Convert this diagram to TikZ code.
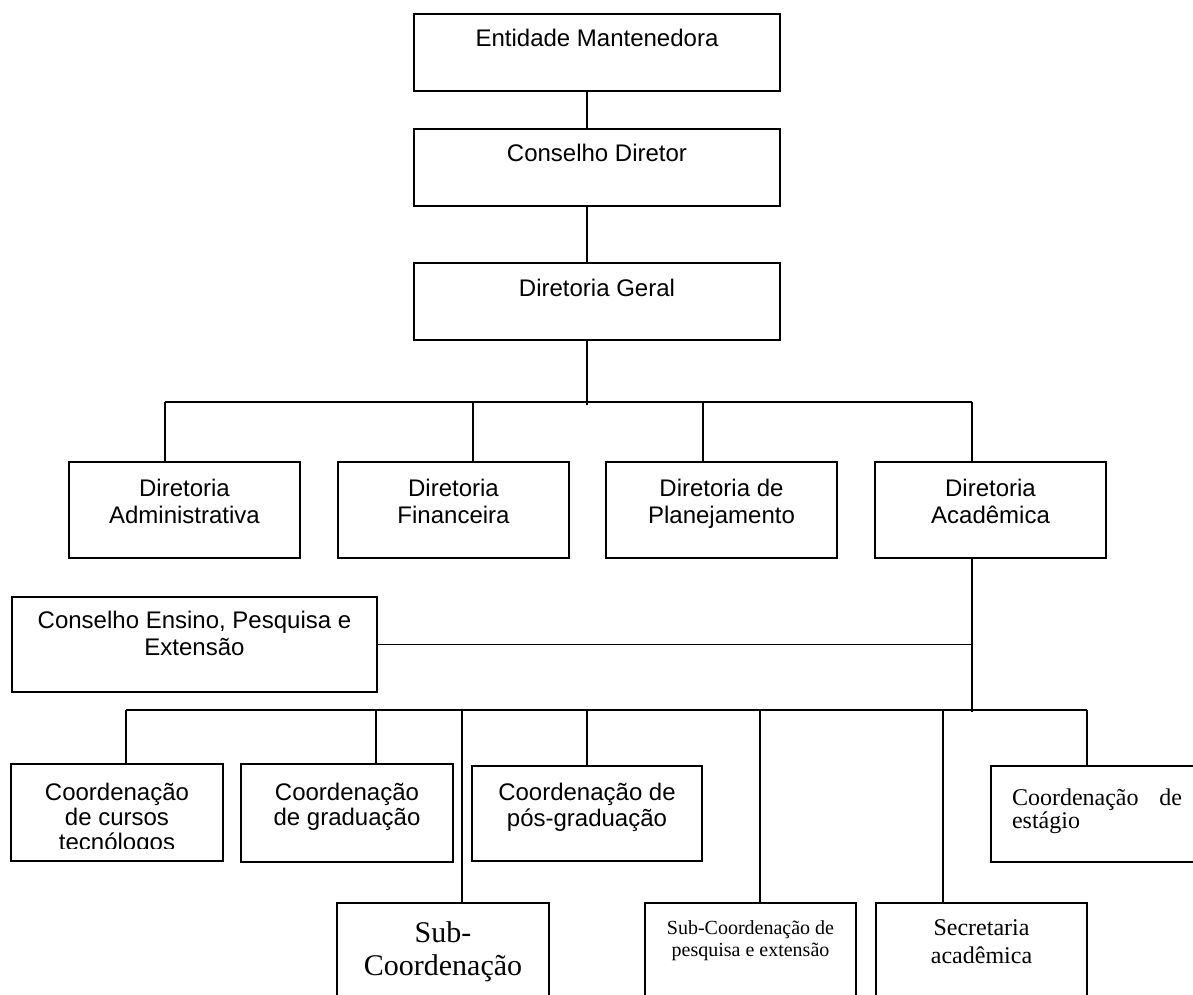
\documentclass[tikz,border=0pt]{standalone}
\usepackage{fontspec}
\setmainfont{Liberation Sans}
\newfontfamily\tnr{Liberation Serif}
% #1 width, #2 height, #3 font setup, #4 first-baseline strut, #5 text
\newcommand{\bxt}[5]{\parbox[t][#2][t]{#1}{#3\centering\rule{0pt}{#4}#5}}
\tikzset{
  frame/.style={draw=black, line width=0.75pt, inner sep=0pt, outer sep=0pt, anchor=north west},
  bare/.style={inner sep=0pt, outer sep=0pt, anchor=north west},
  link/.style={draw=black, line width=0.75pt},
}
\newcommand{\ar}{\fontsize{12pt}{13.8pt}\selectfont}
\begin{document}
\begin{tikzpicture}[x=0.5pt, y=-0.5pt]
\useasboundingbox (0,0) rectangle (1193,995);
\clip (0,0) rectangle (1193,995);

% top chain
\node[frame] (ent) at (414,14)  {\bxt{183pt}{38.5pt}{\ar}{16.5pt}{Entidade Mantenedora}};
\node[frame] (cd)  at (414,129) {\bxt{183pt}{38.5pt}{\ar}{16.5pt}{Conselho Diretor}};
\node[frame] (dg)  at (414,263) {\bxt{183pt}{38.5pt}{\ar}{16.5pt}{Diretoria Geral}};

% directorates
\node[frame] (adm) at (69,462)  {\bxt{115.5pt}{48pt}{\ar}{17pt}{Diretoria\\Administrativa}};
\node[frame] (fin) at (338,462) {\bxt{115.5pt}{48pt}{\ar}{17pt}{Diretoria\\Financeira}};
\node[frame] (pla) at (606,462) {\bxt{115.5pt}{48pt}{\ar}{17pt}{Diretoria de\\Planejamento}};
\node[frame] (aca) at (875,462) {\bxt{115.5pt}{48pt}{\ar}{17pt}{Diretoria\\Acadêmica}};

% council
\node[frame] (con) at (12,597) {\bxt{182.5pt}{47.5pt}{\fontsize{12pt}{13.5pt}\selectfont}{15.5pt}{Conselho Ensino, Pesquisa e\\Extensão}};

% coordinations
\begin{scope}
  \clip (11,764) rectangle (223,848);
  \node[bare] (cur) at (11,764) {\bxt{106pt}{48.5pt}{\fontsize{12pt}{12.5pt}\selectfont}{18pt}{Coordenação\\de cursos\\tecnólogos}};
\end{scope}
\draw[link] (cur.south west) rectangle (cur.north east);
\node[frame] (gra) at (241,764) {\bxt{106pt}{49pt}{\fontsize{12pt}{12.5pt}\selectfont}{18pt}{Coordenação\\de graduação}};
\node[frame] (pos) at (472,766) {\bxt{115pt}{47.5pt}{\fontsize{12pt}{13pt}\selectfont}{17pt}{Coordenação de\\pós-graduação}};
\node[frame] (est) at (991,766) {\parbox[t][48pt][t]{102pt}{\tnr\fontsize{12pt}{11.5pt}\selectfont\leftskip=10.5pt\rightskip=6.5pt\parindent=0pt\rule{0pt}{19.5pt}Coordenação\hfill de\\estágio}};

% sub-coordinations
\node[frame] (sub) at (337,903) {\bxt{106pt}{60pt}{\tnr\fontsize{15pt}{16.5pt}\selectfont}{19.5pt}{Sub-\\Coordenação}};
\node[frame] (sup) at (645,903) {\bxt{105.5pt}{60pt}{\tnr\fontsize{10pt}{11pt}\selectfont}{15.5pt}{Sub-Coordenação de\\pesquisa e extensão}};
\node[frame] (sec) at (876,903) {\bxt{105.5pt}{60pt}{\tnr\fontsize{12pt}{14pt}\selectfont}{16pt}{Secretaria\\acadêmica}};

% connectors: top chain
\coordinate (j0) at (587,402);
\draw[link] (ent.south -| j0) -- (cd.north -| j0);
\draw[link] (cd.south -| j0) -- (dg.north -| j0);
\draw[link] (dg.south -| j0) -- ([yshift=-1.5pt]j0);

% bus 1
\coordinate (b1a) at (165,402);
\coordinate (b1b) at (473,402);
\coordinate (b1c) at (703,402);
\coordinate (b1d) at (972,402);
\draw[link] (b1a) -- (b1d);
\draw[link] (b1a) -- (b1a |- adm.north);
\draw[link] (b1b) -- (b1b |- fin.north);
\draw[link] (b1c) -- (b1c |- pla.north);
\draw[link] (b1d) -- (b1d |- aca.north);

% academic trunk and council
\coordinate (j1) at (972,710);
\draw[link] (aca.south -| j1) -- ([yshift=-1pt]j1);
\draw[link] (con.east) -- (con.east -| j1);

% bus 2
\coordinate (b2a) at (126,710);
\coordinate (b2b) at (376,710);
\coordinate (b2c) at (462,710);
\coordinate (b2d) at (587,710);
\coordinate (b2e) at (760,710);
\coordinate (b2f) at (943,710);
\coordinate (b2g) at (1087,710);
\draw[link] (b2a) -- (b2g);
\draw[link] (b2a) -- (b2a |- cur.north);
\draw[link] (b2b) -- (b2b |- gra.north);
\draw[link] (b2c) -- (b2c |- sub.north);
\draw[link] (b2d) -- (b2d |- pos.north);
\draw[link] (b2e) -- (b2e |- sup.north);
\draw[link] (b2f) -- (b2f |- sec.north);
\draw[link] (b2g) -- (b2g |- est.north);
\end{tikzpicture}
\end{document}
